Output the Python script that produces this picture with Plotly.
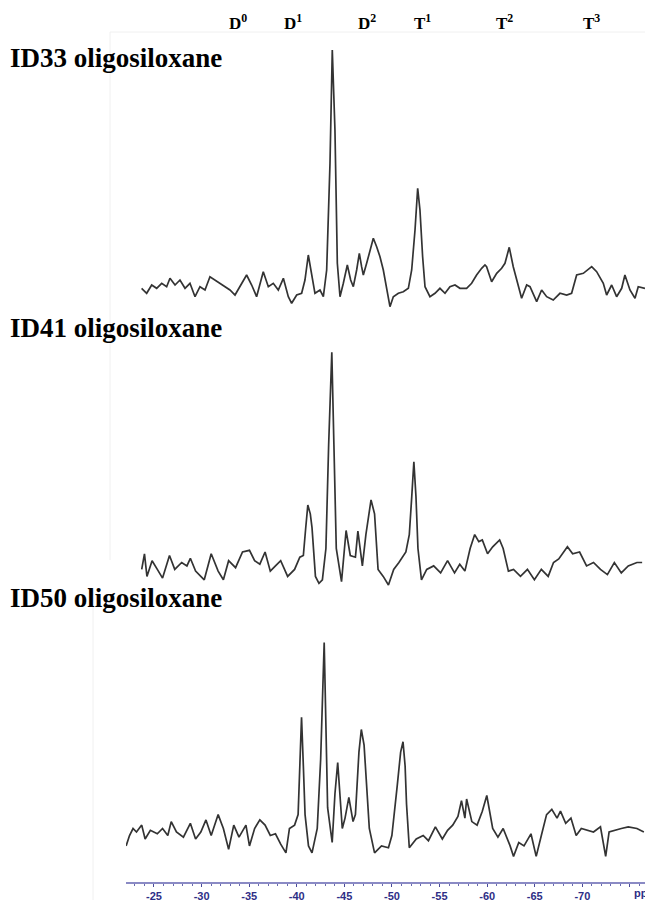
import plotly.graph_objects as go

# ---- data (ppm, relative intensity) ----
x_id33 = [-23.70,-24.23,-24.76,-25.28,-25.81,-26.33,-26.68,-27.21,-27.73,-28.26,
          -28.78,-29.31,-29.83,-30.36,-30.88,-31.41,-31.93,-32.46,-32.98,-33.51,
          -34.03,-34.73,-35.26,-35.78,-36.48,-37.01,-37.53,-38.06,-38.59,-39.11,
          -39.46,-39.99,-40.51,-40.86,-41.21,-41.56,-41.91,-42.44,-42.79,-43.14,
          -43.49,-43.73,-44.01,-44.26,-44.54,-44.89,-45.31,-45.66,-45.94,-46.29,
          -46.57,-46.81,-46.99,-47.34,-47.69,-48.04,-48.39,-48.74,-49.09,-49.44,
          -49.79,-50.14,-50.67,-51.19,-51.72,-52.07,-52.42,-52.70,-52.94,-53.22,
          -53.47,-53.99,-54.52,-55.04,-55.57,-56.09,-56.62,-57.14,-57.84,-58.37,
          -58.89,-59.42,-59.77,
          -59.94,-60.47,-61.00,-61.52,-61.87,-62.32,-62.74,-63.27,-63.62,-64.15,
          -64.50,-65.20,-65.72,-66.25,-66.94,-67.65,-68.35,-68.87,-69.40,-70.10,
          -70.98,-71.50,-72.20,-72.55,-73.08,-73.60,-74.13,-74.47,-75.00,-75.53,
          -75.87,-76.58]
y_id33 = [26.7,21.7,30,26.7,31.7,28.3,36.7,30,35,26.7,
          31.7,18.3,28.3,25,38.3,35,31.7,28.3,25,20,
          28.3,40,30,18.3,43.3,28.3,31.7,25,36.7,18.3,
          11.7,20,21.7,35,60,41.7,21.7,25,18.3,45,
          151.7,265,185,51.7,18.3,31.7,50,35,28.3,45,
          61.7,48.3,40,51.7,65,76.7,68.3,58.3,45,25,
          8.3,18.3,21.7,23.3,26.7,45,85,126.7,105,58.3,
          28.3,18.3,21.7,26.7,21.7,28.3,30,26.7,26.7,31.7,
          40,46.7,50,
          48.3,33.3,41.7,46.7,51.7,67.7,48.3,28.3,16.7,30,
          28.3,13.3,25,18.3,15,21.7,20,21.7,40,41.7,
          48.3,43.3,31.7,20,30,18.3,26.7,40,25,16.7,
          28.3,26.7]

x_id41 = [-23.71,-24.00,-24.26,-24.80,-25.35,-25.90,-26.63,-27.18,-27.91,-28.46,
          -28.82,-29.37,-30.28,-31.01,-31.74,-32.29,-32.84,-33.57,-34.30,-35.03,
          -35.57,-36.12,-36.67,-37.22,-37.76,-38.31,-39.04,-39.77,-40.32,-40.69,
          -40.94,-41.16,-41.42,-41.60,-41.96,-42.33,-42.69,-43.06,-43.35,-43.68,
          -43.90,-44.15,-44.70,-45.18,-45.62,-46.16,-46.42,-46.89,-47.26,-47.80,
          -48.17,-48.54,-49.08,-49.63,-50.18,-50.73,-51.46,-51.82,-52.08,-52.30,
          -52.52,-52.73,-53.10,-53.65,-54.38,-55.11,-55.84,-56.57,-57.12,-57.66,
          -58.21,-58.69,-59.12,-59.49,-60.04,-60.58,-61.31,-61.68,-62.23,-62.77,
          -63.50,-64.23,-64.96,-65.69,-66.41,-66.97,-67.52,-68.43,-68.98,-69.71,
          -70.44,-71.17,-71.90,-72.63,-73.36,-74.09,-74.82,-75.73,-76.28]
y_id41 = [20.6,36.2,13.6,29.3,20.6,11.9,34.5,20.6,27.5,24.1,
          31.7,18.9,10.2,36.2,18.9,10.2,29.3,22.3,38,39.7,
          29.3,25.8,38,18.9,24.1,29.3,13.6,20.6,32.8,34.5,
          62.3,84.9,76.2,62.3,13.6,6.7,10.2,41.5,145.7,237.8,
          145.7,41.5,8.4,59.5,34.5,32.8,58.8,24.1,55.4,90.1,
          76.2,20.6,13.6,5,20.6,27.5,38,55.4,93.6,128.3,
          93.6,41.5,10.2,20.6,24.1,17.1,29.3,17.1,25.8,18.9,
          41.5,55.4,48.4,50.1,36.2,43.2,50.1,41.5,18.9,20.6,
          13.6,20.6,10.2,20.6,13.6,27.5,31,43.2,36.2,38,
          24.1,27.5,20.6,15.4,27.5,17.1,24.1,27.5,27.5]

x_id50 = [-22.07,-22.43,-22.80,-23.16,-23.71,-24.07,-24.62,-25.35,-25.90,-26.45,
          -26.81,-27.36,-28.09,-28.82,-29.37,-29.92,-30.46,-31.01,-31.74,-32.29,
          -32.84,-33.38,-33.93,-34.66,-35.03,-35.57,-36.12,-36.67,-37.22,-37.76,
          -38.31,-38.86,-39.23,-39.77,-40.14,-40.32,-40.50,-40.69,-40.87,-41.23,
          -41.60,-42.15,-42.51,-42.88,-43.06,-43.24,-43.72,-44.01,-44.30,-44.52,
          -44.78,-45.07,-45.47,-45.91,-46.16,-46.53,-46.78,-47.07,-47.26,-47.62,
          -48.17,-48.90,-49.63,-49.99,-50.54,-50.91,-51.16,-51.38,-51.53,-51.82,
          -52.55,-53.28,-53.83,-54.56,-55.29,-55.84,-56.38,-56.93,-57.30,-57.66,
          -57.84,-58.39,-58.94,-59.49,-59.96,-60.58,-61.13,-61.68,-62.41,-62.77,
          -63.32,-63.87,-64.60,-65.15,-65.69,-66.24,-66.79,-67.34,-67.70,-68.25,
          -68.80,-69.35,-69.89,-70.44,-71.17,-71.90,-72.45,-72.81,-73.36,-74.09,
          -74.82,-75.73,-76.46]
y_id50 = [36.1,46.5,53.5,50,56.9,43,51.7,48.2,53.5,46.5,
          60.4,50,44.8,58.7,43,50,62.1,46.5,67.4,53.5,
          32.6,56.9,44.8,56.9,36.1,53.5,62.1,56.9,46.5,48.2,
          37.8,29.1,53.5,56.9,67.4,116,164.7,116,67.4,36.1,
          29.1,53.5,123,239.4,157.7,74.3,39.5,88.2,119.5,88.2,
          53.5,63.9,84.7,60.4,67.4,129.9,152.5,136.9,109.1,53.5,
          29.1,36.1,34.3,46.5,95.2,129.9,140.3,116,77.8,34.3,
          43,46.5,41.3,55.2,43,51.7,56.9,65.6,81.3,63.9,
          83,60.4,56.9,70.8,86.5,53.5,44.8,53.5,36.1,25.6,
          39.5,36.1,48.2,25.6,46.5,67.4,72.6,63.9,70.8,58.7,
          63.9,46.5,53.5,51.7,50,55.2,25.6,50,51.7,53.5,
          55.2,53.5,50]

sample_names = ["ID33 oligosiloxane", "ID41 oligosiloxane", "ID50 oligosiloxane"]
peak_labels = ["D<sup>0</sup>", "D<sup>1</sup>", "D<sup>2</sup>",
               "T<sup>1</sup>", "T<sup>2</sup>", "T<sup>3</sup>"]
peak_label_ppm = [-33.8, -39.6, -47.4, -53.2, -61.8, -71.0]
tick_vals = [-25, -30, -35, -40, -45, -50, -55, -60, -65, -70, -75]
tick_text = ["-25", "-30", "-35", "-40", "-45", "-50", "-55", "-60", "-65", "-70", ""]

W, H = 645, 903
def py(px):
    return 1 - px / H

series = [(x_id33, y_id33), (x_id41, y_id41), (x_id50, y_id50)]
for xs, ys in series:
    assert len(xs) == len(ys)

# panel pixel boxes (top, bottom)
panels = [(40, 315), (340, 590), (632, 882)]
ranges = [275, 250, 250]

fig = go.Figure()
for i, (xs, ys) in enumerate(series):
    fig.add_trace(go.Scatter(
        x=xs, y=ys, mode="lines",
        line=dict(color="#333333", width=1.7),
        xaxis="x", yaxis="y" if i == 0 else f"y{i+1}",
        showlegend=False, hoverinfo="skip"))

layout = dict(
    width=W, height=H,
    margin=dict(l=0, r=0, t=0, b=0),
    paper_bgcolor="white", plot_bgcolor="white",
    showlegend=False,
    xaxis=dict(
        domain=[126 / W, 1], range=[-22.06, -76.58], anchor="y3",
        showgrid=False, zeroline=False,
        showline=True, linecolor="#8a8ac4", linewidth=1.5,
        ticks="outside", ticklen=3, tickwidth=1.2, tickcolor="#4a4a9a",
        tickvals=tick_vals, ticktext=tick_text,
        tickfont=dict(family="Liberation Sans Narrow, Liberation Sans, Arial", size=11,
                      color="#2e2e86", weight="bold"),
        minor=dict(dtick=1, ticks="outside", ticklen=2, tickcolor="#6a6ab0", tick0=-25),
        fixedrange=True),
)
for i, ((top, bot), rng) in enumerate(zip(panels, ranges)):
    key = "yaxis" if i == 0 else f"yaxis{i+1}"
    layout[key] = dict(domain=[py(bot), py(top)], range=[0, rng], visible=False,
                       anchor="x", fixedrange=True)
fig.update_layout(**layout)

# sample titles
title_y = [58, 328, 598]
for name, ty in zip(sample_names, title_y):
    fig.add_annotation(text=f"<b>{name}</b>", x=8 / W, y=py(ty), xref="paper", yref="paper",
                       xanchor="left", yanchor="middle", showarrow=False,
                       font=dict(family="Liberation Serif, Times New Roman, serif", size=27, color="black"))

# peak assignment labels
for lab, ppm in zip(peak_labels, peak_label_ppm):
    fig.add_annotation(text=f"<b>{lab}</b>", x=ppm, y=py(22), xref="x", yref="paper",
                       xanchor="center", yanchor="middle", showarrow=False,
                       font=dict(family="Liberation Serif, Times New Roman, serif", size=17, color="black"))

# axis unit label (cut by the right edge, as in the original figure)
fig.add_annotation(text="<b>ppm</b>", x=-75.2, y=py(893), xref="x", yref="paper",
                   xanchor="left", yanchor="middle", showarrow=False,
                   font=dict(family="Liberation Sans Narrow, Liberation Sans, Arial", size=11, color="#2e2e86"))

# faint frame lines of the composite figure
fig.add_shape(type="line", xref="paper", yref="paper", x0=110 / W, x1=110 / W, y0=py(32), y1=py(560),
              line=dict(color="#f0f0f0", width=1))
fig.add_shape(type="line", xref="paper", yref="paper", x0=110 / W, x1=1, y0=py(32), y1=py(32),
              line=dict(color="#f0f0f0", width=1))
fig.add_shape(type="line", xref="paper", yref="paper", x0=93 / W, x1=93 / W, y0=py(590), y1=py(900),
              line=dict(color="#f0f0f0", width=1))

fig.write_html("out.html", config={"displayModeBar": False})
